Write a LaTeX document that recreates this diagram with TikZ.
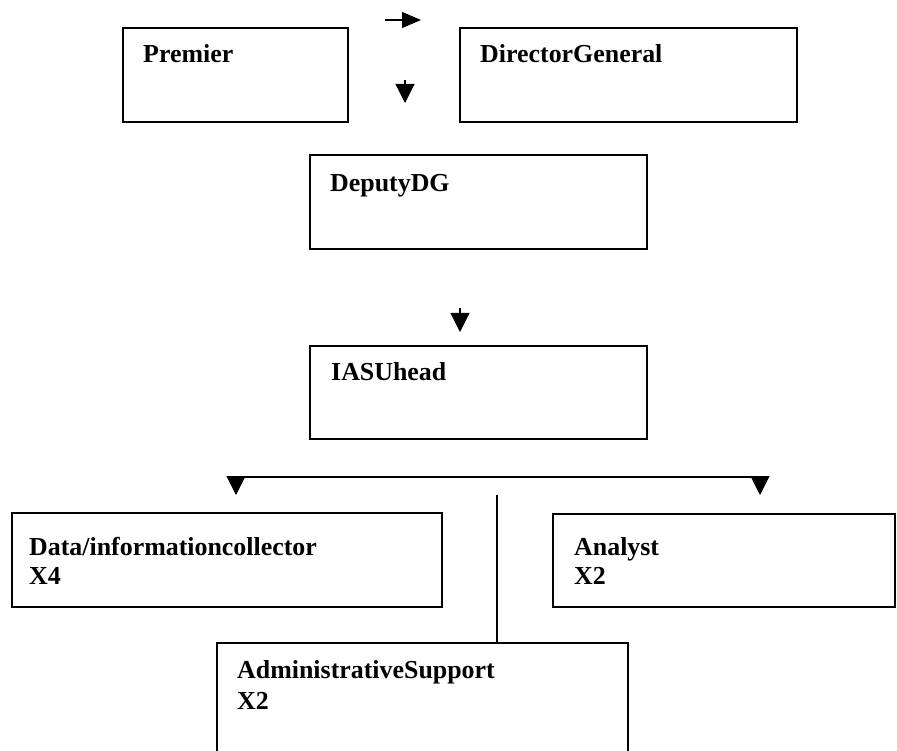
\documentclass[tikz,border=0pt]{standalone}
\usepackage{fontspec}
\setmainfont{Liberation Serif}
\usetikzlibrary{arrows.meta}
\begin{document}
\begin{tikzpicture}[x=1pt,y=-1pt,
  box/.style={draw, line width=1.3pt, inner sep=0pt, outer sep=0pt, anchor=north west},
  lbl/.style={anchor=base west, inner sep=0pt, font=\bfseries\fontsize{25.9}{30}\selectfont},
  conn/.style={line width=1.1pt},
  tip/.style={conn, -{Triangle[length=19pt,width=19pt]}}]
\useasboundingbox (0,0) rectangle (897,751);
\clip (0,0) rectangle (897,751);
% boxes
\node[box, minimum width=225pt, minimum height=94pt] (premier) at (123,28) {};
\node[box, minimum width=337pt, minimum height=94pt] (dg) at (460,28) {};
\node[box, minimum width=337pt, minimum height=94pt] (deputy) at (310,155) {};
\node[box, minimum width=337pt, minimum height=93pt] (iasu) at (310,346) {};
\node[box, minimum width=430pt, minimum height=94pt] (data) at (12,513) {};
\node[box, minimum width=342pt, minimum height=93pt] (analyst) at (553,514) {};
\node[box, minimum width=411pt, minimum height=130pt] (admin) at (217,643) {};
% texts
\node[lbl] (premiert) at (143,63) {Premier};
\node[lbl] (dgt) at (480,63) {DirectorGeneral};
\node[lbl] (deputyt) at (330,192) {DeputyDG};
\node[lbl] (iasut) at (331,381) {IASUhead};
\node[lbl] (datat) at (29,555) {Data/informationcollector};
\node[lbl] (datax) at (29,584) {X4};
\node[lbl] (analystt) at (574,555) {Analyst};
\node[lbl] (analystx) at (574,584) {X2};
\node[lbl] (admint) at (237,678) {AdministrativeSupport};
\node[lbl] (adminx) at (237,709) {X2};
% connectors
\coordinate (ra1) at (385,20);
\coordinate (ra2) at (421,20);
\draw[conn, -{Triangle[length=19pt,width=16pt]}] (ra1) -- (ra2);
\coordinate (da1) at (405,80);
\coordinate (da2) at (405,103);
\draw[tip] (da1) -- (da2);
\coordinate (db1) at (460,308);
\coordinate (db2) at (460,332);
\draw[tip] (db1) -- (db2);
\coordinate (hl) at (236,477);
\coordinate (hr) at (760,477);
\coordinate (hlt) at (236,495);
\coordinate (hrt) at (760,495);
\draw[conn] (hl) -- (hr);
\draw[tip] (hl) -- (hlt);
\draw[tip] (hr) -- (hrt);
\coordinate (vt) at (497,495);
\draw[conn] (vt) -- (vt |- admin.north);
\end{tikzpicture}
\end{document}
